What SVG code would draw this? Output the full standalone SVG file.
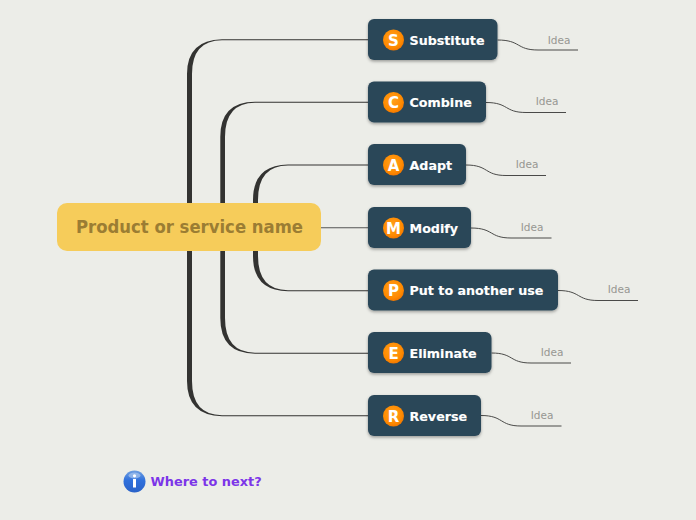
<svg xmlns="http://www.w3.org/2000/svg" width="696" height="520" viewBox="0 0 696 520">
<style>
text{font-family:"DejaVu Sans",Verdana,sans-serif}
.box{fill:#2c4759;filter:url(#sh)}
.lbl{font-size:12.7px;font-weight:700;fill:#fff;stroke:#fff;stroke-width:0.15}
.ltr{font-size:15px;font-weight:700;fill:#fff;text-anchor:middle}
.dot{fill:url(#org)}
.idea{font-size:10.5px;fill:#979792;text-anchor:middle}
.tl{fill:#333331}
.il{fill:none;stroke:#4a4a48;stroke-width:1}
.sl{fill:none;stroke:#555;stroke-width:1.1}
</style>
<defs>
<radialGradient id="org" cx="0.45" cy="0.4" r="0.65"><stop offset="0" stop-color="#ffa21e"/><stop offset="0.7" stop-color="#ff8a00"/><stop offset="1" stop-color="#ee7200"/></radialGradient>
<linearGradient id="inf" x1="0" y1="0" x2="0" y2="1"><stop offset="0" stop-color="#6f9fe0"/><stop offset="0.45" stop-color="#2f70dc"/><stop offset="1" stop-color="#2a62c8"/></linearGradient>
<filter id="sh" x="-10%" y="-15%" width="120%" height="135%"><feDropShadow dx="0" dy="1.5" stdDeviation="1.5" flood-color="#000" flood-opacity="0.35"/></filter>
</defs>
<rect width="696" height="520" fill="#ecede8"/>
<g id="connectors">
<path class="tl" d="M187 228V74Q187 40 222 39.300H368V40.300H222Q192 40.500 192 74V228Z"/>
<path class="tl" d="M187 228V381Q187 415.500 222 416.200H368V415.200H222Q192 415 192 381V228Z"/>
<path class="tl" d="M220.300 228V137Q220.300 102 255 101.800H368V102.800H255Q225 103 225 137V228Z"/>
<path class="tl" d="M220.300 228V318Q220.300 353.500 255 353.700H368V352.700H255Q225 352.500 225 318V228Z"/>
<path class="tl" d="M253 228V200Q253 165 288 164.500H368V165.500H288Q258 165.500 258 200V228Z"/>
<path class="tl" d="M253 228V256Q253 291 288 291.200H368V290.200H288Q258 290 258 256V228Z"/>
<path class="sl" d="M320 227.800H368"/>
<path class="il" d="M497.500 40C521 40 516 50 538 50H578"/>
<path class="il" d="M486 102.500C509 102.500 504 112.500 526 112.500H566"/>
<path class="il" d="M466 165C489 165 484 175.500 506 175.500H546"/>
<path class="il" d="M471 228C494 228 489 238 511 238H551.500"/>
<path class="il" d="M558 290.500C581 290.500 576 300.500 598 300.500H638"/>
<path class="il" d="M491.500 353C514 353 509 363 531 363H571"/>
<path class="il" d="M481 415.500C504 415.500 499 426 521 426H561.500"/>
</g>
<g id="center"><rect x="57" y="203" width="264" height="48" rx="10" fill="#f6cc5a"/><text x="76" y="233" font-size="17.500" font-weight="700" fill="#9b7d33" textLength="227" lengthAdjust="spacingAndGlyphs">Product or service name</text></g>
<g id="n-s"><rect class="box" x="368" y="19" width="129.500" height="41" rx="6"/><circle class="dot" cx="393.500" cy="40" r="10.500"/><text class="ltr" x="393.500" y="45.500">S</text><text class="lbl" x="409.500" y="44.500">Substitute</text></g>
<g id="n-c"><rect class="box" x="368" y="81.500" width="118" height="41" rx="6"/><circle class="dot" cx="393.500" cy="102.500" r="10.500"/><text class="ltr" x="393.500" y="108">C</text><text class="lbl" x="409.500" y="107">Combine</text></g>
<g id="n-a"><rect class="box" x="368" y="144" width="98" height="41" rx="6"/><circle class="dot" cx="393.500" cy="165" r="10.500"/><text class="ltr" x="393.500" y="170.500">A</text><text class="lbl" x="409.500" y="169.500">Adapt</text></g>
<g id="n-m"><rect class="box" x="368" y="207" width="103" height="41" rx="6"/><circle class="dot" cx="393.500" cy="228" r="10.500"/><text class="ltr" x="393.500" y="233.500">M</text><text class="lbl" x="409.500" y="232.500">Modify</text></g>
<g id="n-p"><rect class="box" x="368" y="269.500" width="190" height="41" rx="6"/><circle class="dot" cx="393.500" cy="290.500" r="10.500"/><text class="ltr" x="393.500" y="296">P</text><text class="lbl" x="409.500" y="295">Put to another use</text></g>
<g id="n-e"><rect class="box" x="368" y="332" width="123.500" height="41" rx="6"/><circle class="dot" cx="393.500" cy="353" r="10.500"/><text class="ltr" x="393.500" y="358.500">E</text><text class="lbl" x="409.500" y="357.500">Eliminate</text></g>
<g id="n-r"><rect class="box" x="368" y="395" width="113" height="41" rx="6"/><circle class="dot" cx="393.500" cy="416" r="10.500"/><text class="ltr" x="393.500" y="421.500">R</text><text class="lbl" x="409.500" y="420.500">Reverse</text></g>
<g id="idea-s"><text class="idea" x="559" y="43.500">Idea</text></g>
<g id="idea-c"><text class="idea" x="547" y="105">Idea</text></g>
<g id="idea-a"><text class="idea" x="527" y="168">Idea</text></g>
<g id="idea-m"><text class="idea" x="532" y="231">Idea</text></g>
<g id="idea-p"><text class="idea" x="619" y="293">Idea</text></g>
<g id="idea-e"><text class="idea" x="552" y="356">Idea</text></g>
<g id="idea-r"><text class="idea" x="542" y="419">Idea</text></g>
<g id="next"><circle cx="134.500" cy="481.500" r="11" fill="url(#inf)"/><ellipse cx="134.500" cy="475.500" rx="6" ry="3" fill="#a9c6ee" opacity="0.7"/><circle cx="134.500" cy="475.800" r="1.600" fill="#fff"/><rect x="133" y="479" width="3" height="8.500" fill="#fff"/><text x="150.500" y="486" font-size="12.900" font-weight="700" fill="#7c35e8">Where to next?</text></g>
</svg>
